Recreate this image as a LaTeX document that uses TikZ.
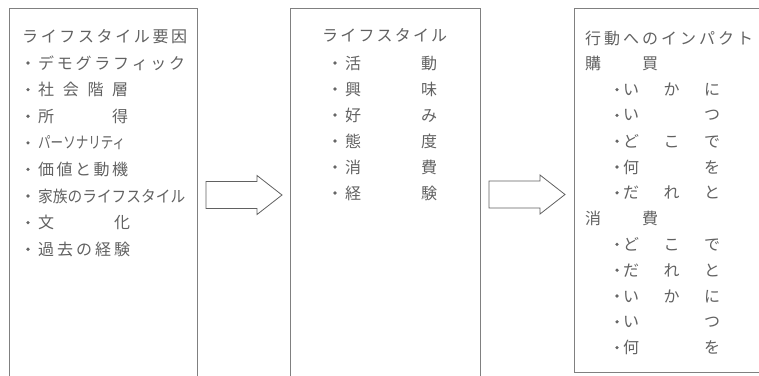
\documentclass[tikz,border=0pt]{standalone}
\usepackage{fontspec}
\usepackage{graphicx}
\newfontfamily\jpfont{Noto Sans CJK JP}
\newsavebox\jfitbox
\def\jspreadloop#1#2\relax{#1\ifx\relax#2\relax\else\hfill\jspreadloop#2\relax\fi}
\newcommand\jfit[2]{\sbox\jfitbox{#2}\ifdim\wd\jfitbox>#1\relax\pgfmathsetmacro\jratio{#1/\the\wd\jfitbox}\scalebox{\jratio}[1]{\usebox\jfitbox}\else\makebox[#1][s]{\jspreadloop#2\relax}\fi}
\tikzset{
  panel/.style={draw=black!50, line width=0.9pt, rectangle, anchor=north west, inner sep=0pt},
  txt/.style={anchor=west, inner sep=0pt, text=black!62, font=\jpfont\fontsize{16}{16}\selectfont},
  bul/.style={circle, fill=black!60, inner sep=0pt, minimum size=3.6pt},
  blockarrow/.pic={\draw[draw=black!62, line width=0.8pt, line join=miter]
     (0,-13.5) -- (51,-13.5) -- (51,-19.5) -- (76,0) -- (51,19.5) -- (51,13.5) -- (0,13.5) -- cycle;}
}
\newcommand\itm[6]{\node[bul] (#1b) at (#2,#4) {}; \node[txt] (#1) at (#3,#4) {\jfit{#5}{#6}};}
\begin{document}
\begin{tikzpicture}[x=1pt,y=-1pt]
\useasboundingbox (0,0) rectangle (759,375);
% panels
\node[panel, minimum width=188pt, minimum height=380pt] (P1) at (9,8) {};
\node[panel, minimum width=190pt, minimum height=380pt] (P2) at (290,8) {};
\node[panel, minimum width=195pt, minimum height=364pt] (P3) at (574,8) {};
% arrows
\pic at (206,195) {blockarrow};
\pic at (489,194.5) {blockarrow};
% left panel
\node[txt] (LT) at (22,37) {\jfit{165pt}{ライフスタイル要因}};
\itm{L1}{28}{38}{63}{147pt}{デモグラフィック}
\itm{L2}{28}{38}{89.6}{90pt}{社会階層}
\itm{L3}{28}{38}{116.2}{90pt}{所得}
\itm{L4}{28}{38}{142.8}{87pt}{パーソナリティ}
\itm{L5}{28}{38}{169.4}{90pt}{価値と動機}
\itm{L6}{28}{38}{196}{147pt}{家族のライフスタイル}
\itm{L7}{28}{38}{222.6}{92pt}{文化}
\itm{L8}{28}{38}{249.2}{92pt}{過去の経験}
% middle panel
\node[txt] (MT) at (322,35) {\jfit{125pt}{ライフスタイル}};
\itm{M1}{335}{345}{63}{92pt}{活動}
\itm{M2}{335}{345}{89}{92pt}{興味}
\itm{M3}{335}{345}{115}{92pt}{好み}
\itm{M4}{335}{345}{141}{92pt}{態度}
\itm{M5}{335}{345}{167}{92pt}{消費}
\itm{M6}{335}{345}{193}{92pt}{経験}
% right panel
\node[txt] (RT) at (585,38) {\jfit{168pt}{行動へのインパクト}};
\node[txt] (RH1) at (585,63.8) {\jfit{73pt}{購買}};
\itm{R1}{617}{623}{89.6}{97pt}{いかに}
\itm{R2}{617}{623}{115.4}{97pt}{いつ}
\itm{R3}{617}{623}{141.2}{97pt}{どこで}
\itm{R4}{617}{623}{167}{97pt}{何を}
\itm{R5}{617}{623}{192.8}{97pt}{だれと}
\node[txt] (RH2) at (585,218.6) {\jfit{73pt}{消費}};
\itm{R6}{617}{623}{244.4}{97pt}{どこで}
\itm{R7}{617}{623}{270.2}{97pt}{だれと}
\itm{R8}{617}{623}{296}{97pt}{いかに}
\itm{R9}{617}{623}{321.8}{97pt}{いつ}
\itm{R10}{617}{623}{347.6}{97pt}{何を}
\end{tikzpicture}
\end{document}
